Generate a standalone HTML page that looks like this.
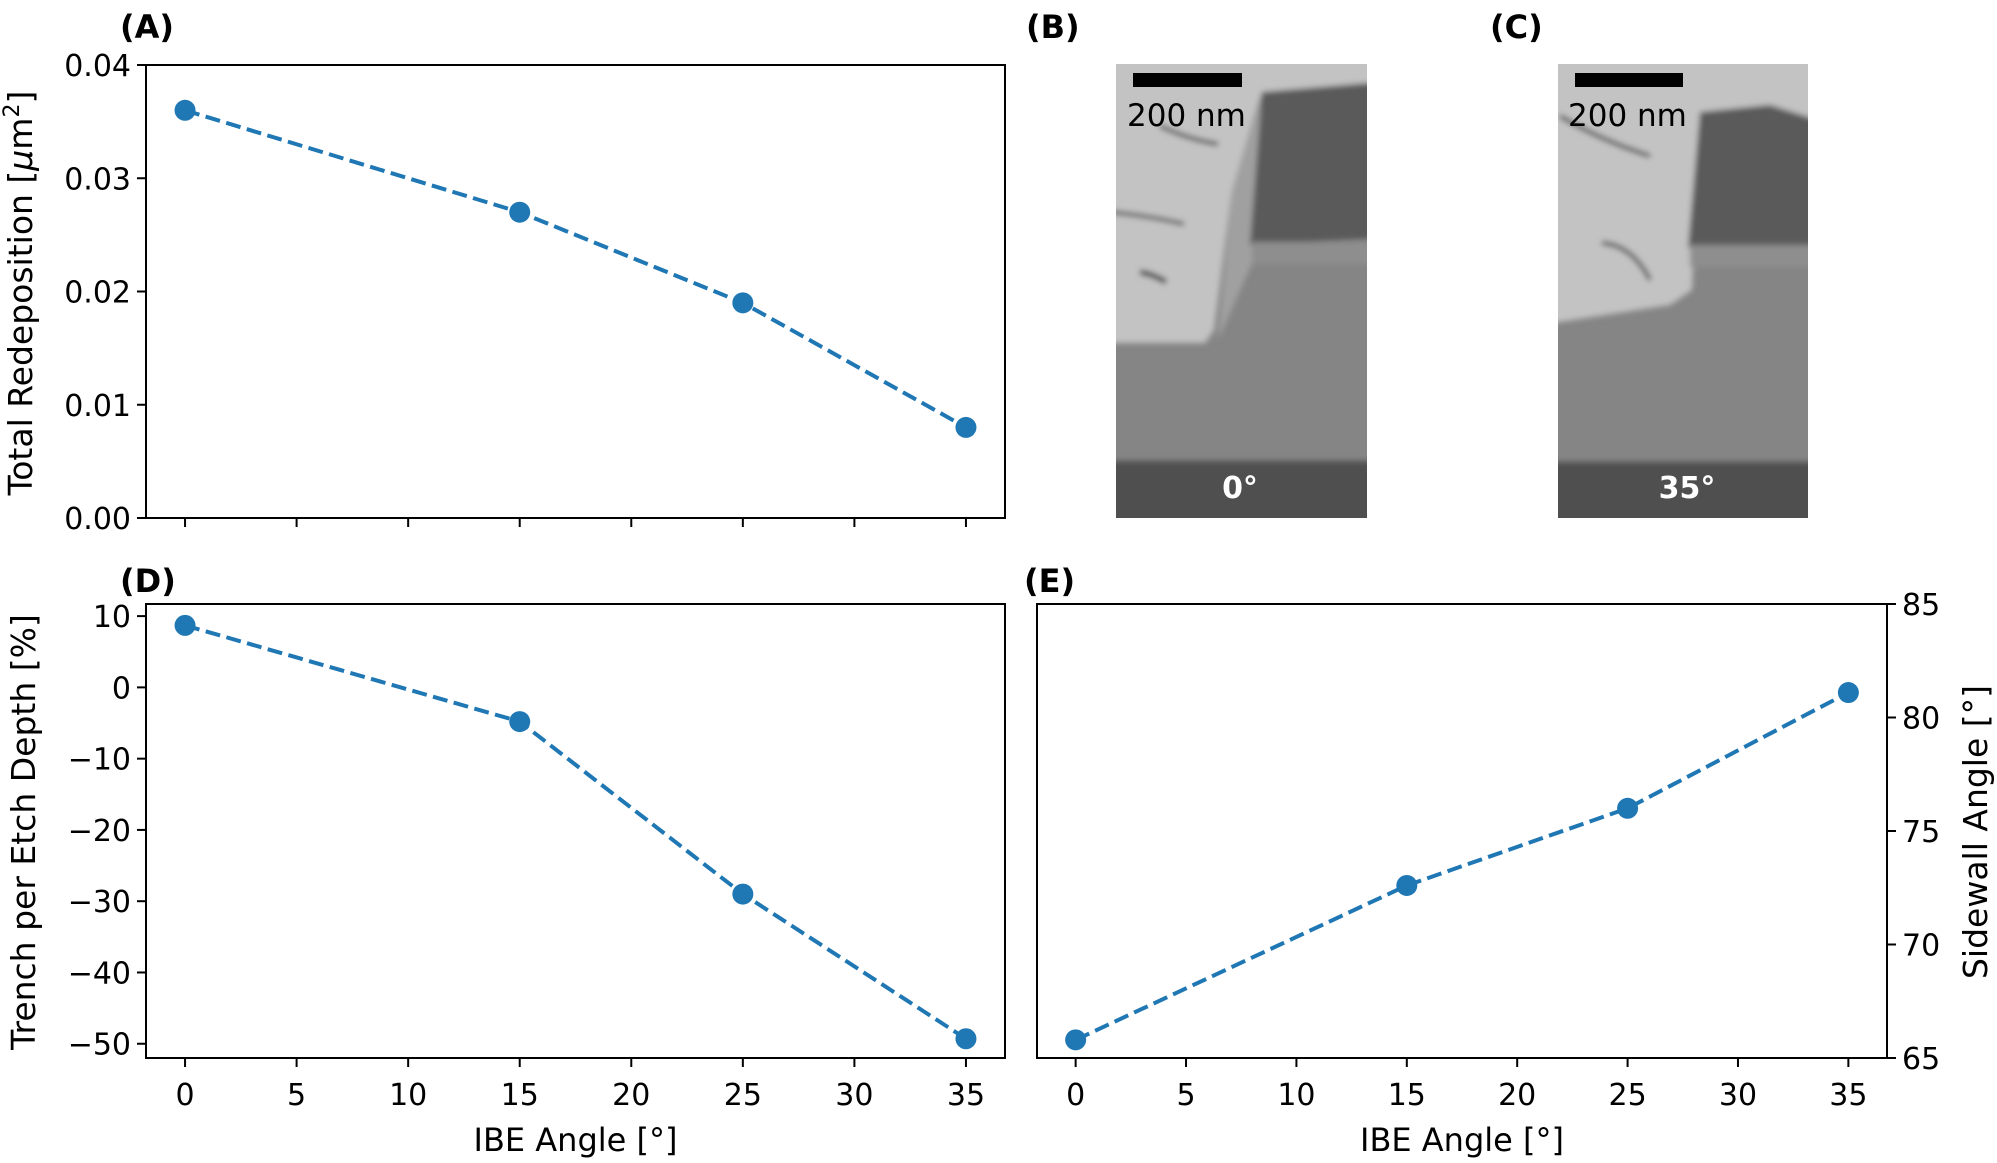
<!DOCTYPE html>
<html><head><meta charset="utf-8"><style>
html,body{margin:0;padding:0;background:#fff}
svg text{font-family:"DejaVu Sans","Liberation Sans",sans-serif;fill:#000}
</style></head><body>
<svg id="fig" width="1997" height="1158" viewBox="0 0 1997 1158" xmlns="http://www.w3.org/2000/svg">
<defs><filter id="blur" x="-5%" y="-5%" width="110%" height="110%"><feGaussianBlur stdDeviation="3"/></filter>
<clipPath id="clipB"><rect x="1116" y="64" width="251" height="454"/></clipPath>
<clipPath id="clipC"><rect x="1558" y="64" width="250" height="454"/></clipPath></defs>

<text x="120" y="38" font-size="32" font-weight="bold">(A)</text>
<text x="1026" y="38" font-size="32" font-weight="bold">(B)</text>
<text x="1490" y="38" font-size="32" font-weight="bold">(C)</text>
<text x="120" y="592" font-size="32" font-weight="bold">(D)</text>
<text x="1024" y="592" font-size="32" font-weight="bold">(E)</text>

<g clip-path="url(#clipB)">
<rect x="1116" y="64" width="251" height="454" fill="#858585"/>
<g filter="url(#blur)">
<polygon points="1100,50 1380,50 1380,82 1262,92 1246,145 1232,190 1214,330 1205,343 1100,343" fill="#c3c3c3"/>
<polygon points="1232,190 1262,100 1258,250 1218,340" fill="#a0a0a0"/>
<polygon points="1262,92 1380,82 1380,238 1250,245" fill="#5a5a5a"/>
<rect x="1252" y="242" width="130" height="22" fill="#8e8e8e"/>
<rect x="1100" y="461" width="290" height="70" fill="#505050"/>
<path d="M1160,126 Q1190,140 1218,144" stroke="#444" stroke-width="4" fill="none"/>
<path d="M1110,212 Q1150,216 1184,224" stroke="#555" stroke-width="4" fill="none"/>
<path d="M1140,272 Q1155,275 1166,282" stroke="#333" stroke-width="5" fill="none"/>
</g>
<rect x="1133" y="73" width="109" height="14" fill="#000"/>
<text x="1127" y="126" font-size="31">200 nm</text>
<text x="1240" y="498" font-size="30" font-weight="bold" text-anchor="middle" style="fill:#fff">0°</text>
</g>

<g clip-path="url(#clipC)">
<rect x="1558" y="64" width="250" height="454" fill="#858585"/>
<g filter="url(#blur)">
<polygon points="1540,50 1820,50 1820,120 1770,105 1700,112 1692,290 1670,305 1540,325" fill="#c3c3c3"/>
<polygon points="1700,112 1770,105 1820,122 1820,245 1688,248" fill="#5a5a5a"/>
<rect x="1690" y="245" width="130" height="22" fill="#8e8e8e"/>
<rect x="1540" y="462" width="290" height="70" fill="#505050"/>
<path d="M1560,116 Q1600,140 1650,156" stroke="#444" stroke-width="4" fill="none"/>
<path d="M1602,243 Q1632,245 1650,280" stroke="#444" stroke-width="4" fill="none"/>
</g>
<rect x="1575" y="73" width="108" height="14" fill="#000"/>
<text x="1568" y="126" font-size="31">200 nm</text>
<text x="1687" y="498" font-size="30" font-weight="bold" text-anchor="middle" style="fill:#fff">35°</text>
</g>
</svg>
<script>
const angles = [0, 15, 25, 35];
const redeposition = [0.036, 0.027, 0.019, 0.008];
const trench = [8.7, -4.8, -29, -49.3];
const sidewall = [65.8, 72.6, 76, 81.1];
const xTicks = [0, 5, 10, 15, 20, 25, 30, 35];
const yTicksA = [0, 0.01, 0.02, 0.03, 0.04];
const yTickLabelsA = ["0.00", "0.01", "0.02", "0.03", "0.04"];
const yTicksD = [10, 0, -10, -20, -30, -40, -50];
const yTickLabelsD = ["10", "0", "\u221210", "\u221220", "\u221230", "\u221240", "\u221250"];
const yTicksE = [65, 70, 75, 80, 85];
const yTickLabelsE = ["65", "70", "75", "80", "85"];

const NS = "http://www.w3.org/2000/svg";
const fig = document.getElementById("fig");
function mk(tag, attrs, parent) {
  const e = document.createElementNS(NS, tag);
  for (const k in attrs) e.setAttribute(k, attrs[k]);
  (parent || fig).appendChild(e);
  return e;
}
function chart(o) {
  const g = mk("g", {});
  
  
  const sx = v => o.x0 + (v - o.xmin) / (o.xmax - o.xmin) * (o.x1 - o.x0);
  const sy = v => o.y1 - (v - o.ymin) / (o.ymax - o.ymin) * (o.y1 - o.y0);
  const box = mk("rect", {x:o.x0, y:o.y0, width:o.x1-o.x0, height:o.y1-o.y0, fill:"none", stroke:"#000", "stroke-width":2}, g);
  
  
  xTicks.forEach(t => {
    const x = sx(t);
    const tk = mk("line", {x1:x, x2:x, y1:o.y1, y2:o.y1+9, stroke:"#000", "stroke-width":2}, g);
    
    
    if (o.xlabels) {
      const tl = mk("text", {x:x, y:o.y1+47, "font-size":30, "text-anchor":"middle"}, g);
      tl.textContent = String(t);
      
      
    }
  });
  o.yticks.forEach((t, i) => {
    const y = sy(t);
    const right = o.right;
    const ax = right ? o.x1 : o.x0;
    const tk = mk("line", {x1:ax, x2:right ? ax+9 : ax-9, y1:y, y2:y, stroke:"#000", "stroke-width":2}, g);
    
    
    const tl = mk("text", {x:right ? ax+15 : ax-15, y:y+11, "font-size":30, "text-anchor":right ? "start" : "end"}, g);
    tl.textContent = o.ylabels[i];
    
    
  });
  if (o.xtitle) {
    const xt = mk("text", {x:(o.x0+o.x1)/2, y:o.y1+93, "font-size":32, "text-anchor":"middle"}, g);
    xt.textContent = o.xtitle;
    
    
  }
  const yt = mk("text", {x:0, y:0, "font-size":33, "text-anchor":"middle", transform:`translate(${o.ytx},${o.yty}) rotate(-90)`}, g);
  yt.innerHTML = o.ytitle;
  
  
  const pts = o.vals.map((v, i) => sx(angles[i]) + "," + sy(v)).join(" ");
  const ln = mk("polyline", {points:pts, fill:"none", stroke:"#1f77b4", "stroke-width":4, "stroke-dasharray":"15,6.5"}, g);
  
  
  o.vals.forEach((v, i) => {
    const c = mk("circle", {cx:sx(angles[i]), cy:sy(v), r:10.5, fill:"#1f77b4"}, g);
    
    
  });
}
chart({name:"chart-a-redeposition", x0:146, x1:1005, y0:65, y1:518, xmin:-1.75, xmax:36.75, ymin:0, ymax:0.04,
  vals:redeposition, yticks:yTicksA, ylabels:yTickLabelsA, xlabels:false,
  ytitle:'Total Redeposition [<tspan font-style="italic">μ</tspan>m<tspan dy="-13" font-size="22">2</tspan><tspan dy="13">]</tspan>', ytx:32, yty:293});
chart({name:"chart-d-trench", x0:146, x1:1005, y0:604, y1:1058, xmin:-1.75, xmax:36.75, ymin:-52.0, ymax:11.7,
  vals:trench, yticks:yTicksD, ylabels:yTickLabelsD, xlabels:true, xtitle:"IBE Angle [°]",
  ytitle:"Trench per Etch Depth [%]", ytx:35, yty:832});
chart({name:"chart-e-sidewall", x0:1037, x1:1887, y0:604, y1:1058, xmin:-1.75, xmax:36.75, ymin:65, ymax:85,
  vals:sidewall, yticks:yTicksE, ylabels:yTickLabelsE, xlabels:true, xtitle:"IBE Angle [°]", right:true,
  ytitle:"Sidewall Angle [°]", ytx:1987, yty:832});
</script>
</body></html>
